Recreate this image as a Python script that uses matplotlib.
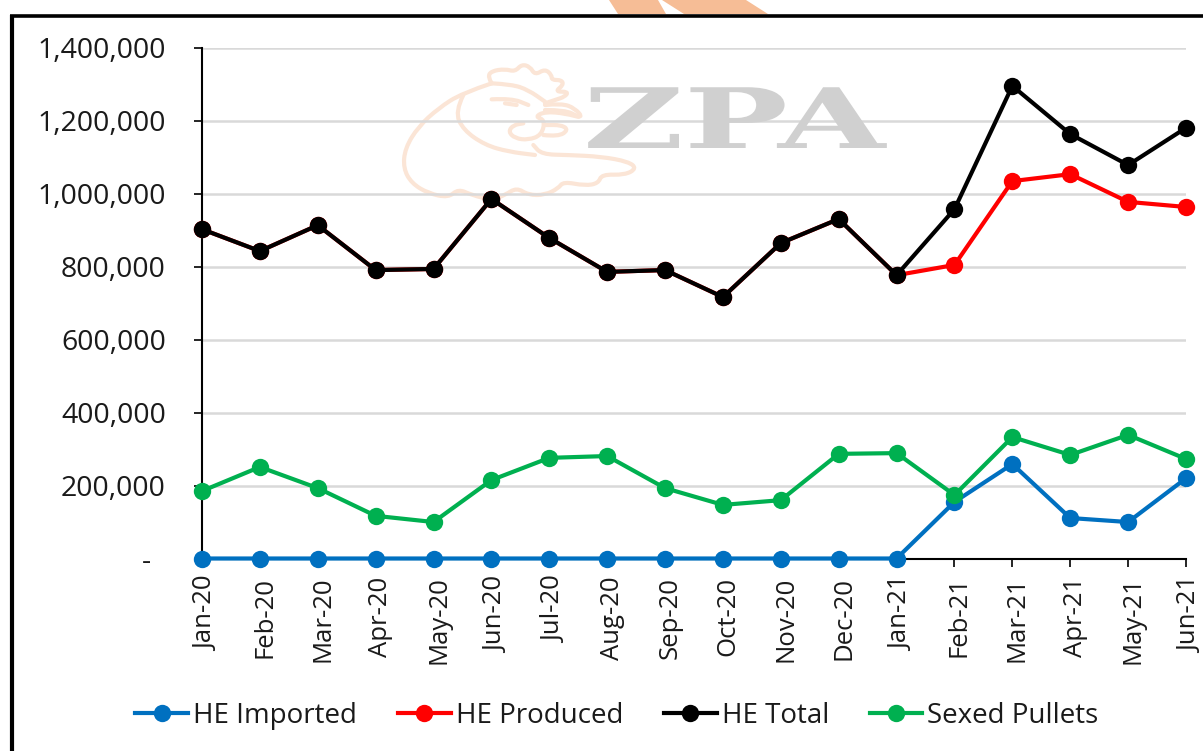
import numpy as np
import matplotlib
matplotlib.use("Agg")
import matplotlib.pyplot as plt
from matplotlib.path import Path
from matplotlib.patches import PathPatch, Polygon
from matplotlib.lines import Line2D
from matplotlib.transforms import Affine2D, ScaledTranslation
from matplotlib.patheffects import AbstractPathEffect

months = ["Jan-20","Feb-20","Mar-20","Apr-20","May-20","Jun-20","Jul-20","Aug-20","Sep-20",
          "Oct-20","Nov-20","Dec-20","Jan-21","Feb-21","Mar-21","Apr-21","May-21","Jun-21"]
he_imported = [0,0,0,0,0,0,0,0,0,0,0,0,0,155000,259000,111000,100000,220000]
he_produced = [903000,843000,914000,791000,794000,986000,879000,786000,791000,717000,865000,931000,
               777000,805000,1035000,1054000,978000,964000]
he_total = [903000,843000,914000,791000,794000,986000,879000,786000,791000,717000,865000,931000,
            777000,958000,1296000,1164000,1079000,1181000]
sexed_pullets = [185000,251000,193000,117000,100000,215000,276000,281000,193000,147000,160000,287000,
                 289000,174000,333000,284000,339000,273000]
y_ticks = [0,200000,400000,600000,800000,1000000,1200000,1400000]
y_labels = ["-  ","200,000","400,000","600,000","800,000","1,000,000","1,200,000","1,400,000"]

W, H = 1203, 751
FONT = "Open Sans"
plt.rcParams["font.family"] = [FONT, "DejaVu Sans"]
fig = plt.figure(figsize=(W/100, H/100), dpi=100, facecolor="white")
px = Affine2D().scale(1, -1).translate(0, H)   # decoration placed in image pixels

# --- page decoration -------------------------------------------------------
for pts in ([(609,0),(618,14),(666,14),(658,0)], [(662,0),(684,14),(768,14),(746,0)]):
    fig.add_artist(Polygon(pts, closed=True, fc="#F6BD96", ec="none", transform=px, zorder=0))
fig.add_artist(Line2D([12,12],[15,751], color="black", lw=3.0, transform=px, zorder=5, solid_capstyle="butt"))
fig.add_artist(Line2D([10,1203],[16,16], color="black", lw=2.6, transform=px, zorder=5, solid_capstyle="butt"))

# --- watermark -------------------------------------------------------------
def smooth(points):
    p = np.array(points, float) / 3 + np.array([395, 55])
    verts, codes = [p[0]], [Path.MOVETO]
    for i in range(1, len(p)-1):
        verts += [p[i], (p[i]+p[i+1])/2]
        codes += [Path.CURVE3, Path.CURVE3]
    verts.append(p[-1]); codes.append(Path.LINETO)
    return Path(np.array(verts), codes)

chicken = [
    [(290,85),(200,115),(130,160),(70,215),(30,280),(25,340),(50,385),(100,415),(160,428),(190,402),(230,420),
     (290,435),(330,420),(365,398),(400,420),(450,420),(490,400),(505,380),(570,392),(610,385),(620,358),
     (690,360),(725,340),(700,320),(620,305),(520,300),(440,298),(415,270)],
    [(205,120),(180,170),(205,225),(270,270),(340,290),(420,300)],
    [(290,85),(350,88),(400,105),(450,140)],
    [(290,85),(278,65),(290,48),(330,42),(360,50),(380,28),(405,35),(420,60),(450,42),(470,60),(470,75),(500,75),
     (505,90),(480,110),(520,110),(510,125),(480,135),(450,145)],
    [(450,150),(500,145),(540,160),(565,190),(510,175),(450,170),(420,185),(450,195),(440,240),(400,255),(360,250),
     (340,230),(355,210),(385,205)],
    [(445,240),(490,245),(520,225),(500,210),(450,210)],
    [(450,165),(510,165),(550,185)],
    [(290,133),(350,130),(400,150)],
    [(330,145),(365,150)],
]
for c in chicken:
    fig.add_artist(PathPatch(smooth(c), fc="none", ec="#FBE5D6", lw=3.0, transform=px, zorder=0,
                             capstyle="round", joinstyle="round"))

class StretchX(AbstractPathEffect):
    def __init__(self, sx, x0):
        super().__init__()
        self.sx, self.x0 = sx, x0
    def draw_path(self, renderer, gc, tpath, affine, rgbFace=None):
        t = affine + Affine2D().translate(-self.x0, 0).scale(self.sx, 1).translate(self.x0, 0)
        renderer.draw_path(gc, tpath, t, rgbFace)

wm = fig.text(583/W, 1-148/H, "ZPA", family="DejaVu Serif", weight="bold", fontsize=60,
              color="#D0D0D0", ha="left", va="baseline", zorder=0)
wm.set_path_effects([StretchX(1.66, 583)])

# --- chart -----------------------------------------------------------------
ax = fig.add_axes([202/W, 1-558.5/H, (1186-202)/W, 510.5/H])
ax.patch.set_visible(False)
x = np.arange(len(months))
style = dict(lw=3.0, marker="o", ms=12.5, mew=0, clip_on=False, solid_joinstyle="round")
ax.plot(x, he_imported, color="#0070C0", label="HE Imported", zorder=3, **style)
ax.plot(x, he_produced, color="#FF0000", label="HE Produced", zorder=4, **style)
ax.plot(x, he_total, color="#000000", label="HE Total", zorder=5, **style)
ax.plot(x, sexed_pullets, color="#00B050", label="Sexed Pullets", zorder=6, **style)

ax.set_xlim(0, len(months)-1)
ax.set_ylim(0, 1400000)
ax.set_yticks(y_ticks, y_labels, fontsize=20.5, color="#1a1a1a")
ax.set_xticks(x, months, rotation=90, fontsize=18.5, color="#1a1a1a")
ax.grid(axis="y", color="#D9D9D9", lw=1.8, zorder=1)
ax.set_axisbelow(True)
for s in ("top", "right"):
    ax.spines[s].set_visible(False)
for s in ("left", "bottom"):
    ax.spines[s].set_color("black")
    ax.spines[s].set_linewidth(1.5)
ax.tick_params(axis="y", length=6, width=1.2, pad=20)
ax.tick_params(axis="x", length=6, width=1.2, pad=7)
shift = ScaledTranslation(5/100, 0, fig.dpi_scale_trans)
for lab in ax.get_xticklabels():
    lab.set_transform(lab.get_transform() + shift)

ax.legend(loc="center", bbox_to_anchor=(617/W, 1-716/H), bbox_transform=fig.transFigure, ncol=4,
          frameon=False, fontsize=20, handlelength=1.9, handletextpad=0.18, columnspacing=1.47,
          labelcolor="#1a1a1a", borderpad=0, borderaxespad=0)

fig.savefig("out.png", dpi=100)
